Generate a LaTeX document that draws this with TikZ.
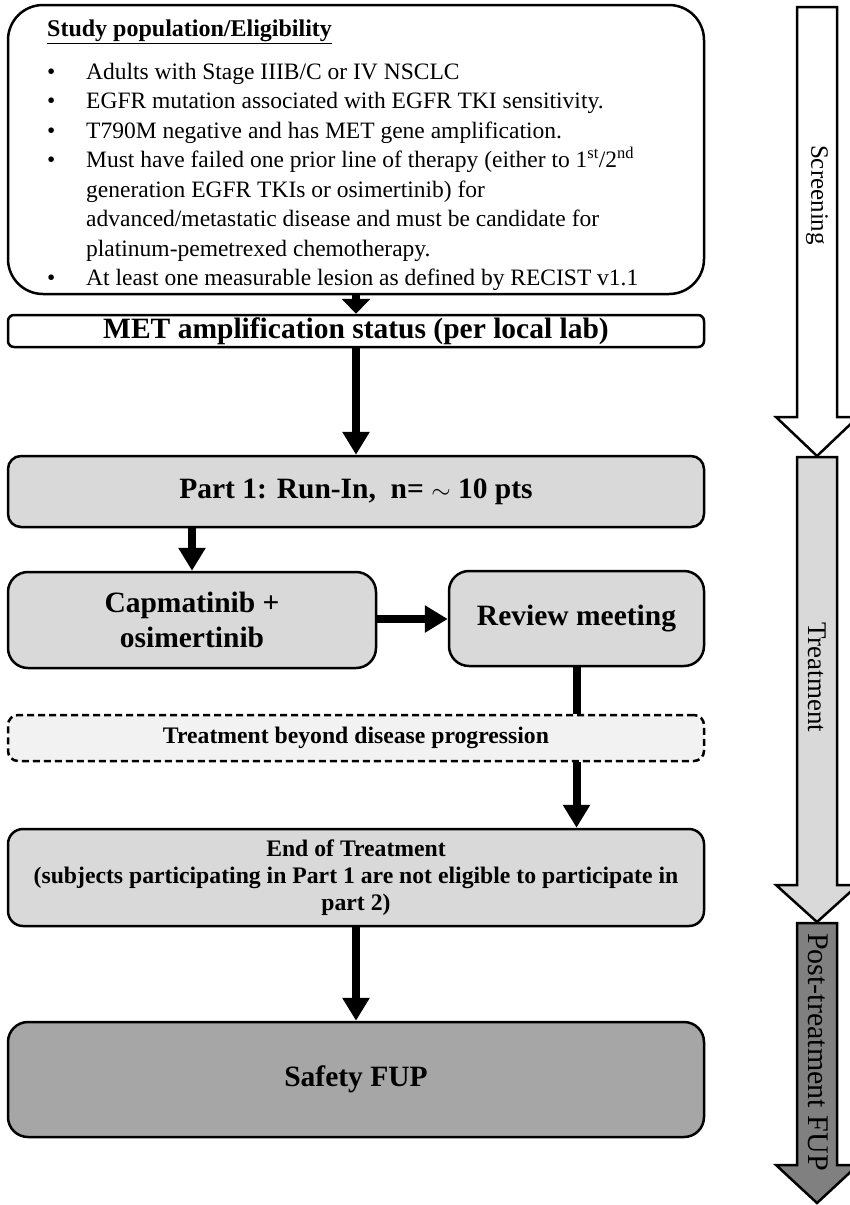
\documentclass[tikz,border=0pt]{standalone}
\usepackage{fontspec}
\setmainfont{Liberation Serif}
\usepackage{tikz}
\usetikzlibrary{arrows.meta,positioning,calc}

\definecolor{boxgray}{HTML}{D9D9D9}
\definecolor{palegray}{HTML}{F2F2F2}
\definecolor{safegray}{HTML}{A6A6A6}
\definecolor{postgray}{HTML}{808080}

\begin{document}
\begin{tikzpicture}[x=1pt, y=-1pt,
    box/.style={rectangle, draw, line width=2.5pt, fill=boxgray, inner sep=0pt, align=center, font=\fontsize{29.5}{35}\selectfont\bfseries},
    smallbox/.style={box, font=\fontsize{23.7}{27}\selectfont\bfseries},
    link/.style={line width=8pt, -{Triangle[length=23pt,width=26pt]}},
    phase/.style={draw, line width=2.5pt, line join=miter},
    phaselbl/.style={rotate=-90, inner sep=0pt}
]
\useasboundingbox (0,0) rectangle (849,1205);

% boxes
\node[box, fill=white, rounded corners=35pt, minimum width=696pt, minimum height=289pt] (study) at (356,149.5) {};
\node[anchor=north west, inner sep=0pt, align=left, font=\fontsize{23.5}{29.5}\selectfont] (studytxt) at (47,20)
  {\underline{\textbf{\fontsize{24}{28}\selectfont Study population/Eligibility}}\\[13pt]
   \makebox[39pt][l]{\textbullet}Adults with Stage IIIB/C or IV NSCLC\\
   \makebox[39pt][l]{\textbullet}EGFR mutation associated with EGFR TKI sensitivity.\\
   \makebox[39pt][l]{\textbullet}T790M negative and has MET gene amplification.\\
   \makebox[39pt][l]{\textbullet}Must have failed one prior line of therapy (either to 1\textsuperscript{st}/2\textsuperscript{nd}\\
   \hspace*{39pt}generation EGFR TKIs or osimertinib) for\\
   \hspace*{39pt}advanced/metastatic disease and must be candidate for\\
   \hspace*{39pt}platinum-pemetrexed chemotherapy.\\
   \makebox[39pt][l]{\textbullet}At least one measurable lesion as defined by RECIST v1.1};
\node[box, fill=white, rounded corners=6pt, minimum width=696pt, minimum height=32pt] (met) at (356,331) {MET amplification status (per local lab)};
\node[box, rounded corners=13pt, minimum width=696pt, minimum height=71pt] (part1) at (356,491.5) {Part 1: Run-In,\ \ n= $\sim$ 10 pts};
\node[box, rounded corners=20pt, minimum width=368pt, minimum height=96pt] (capma) at (192,620) {Capmatinib +\\osimertinib};
\node[box, rounded corners=20pt, minimum width=255pt, minimum height=95pt] (review) at (576.5,618.5) {Review meeting};
\node[smallbox, fill=palegray, dash pattern=on 7pt off 4pt, rounded corners=10pt, minimum width=696pt, minimum height=46pt] (beyond) at (356,738) {Treatment beyond disease progression};
\node[smallbox, rounded corners=15pt, minimum width=696pt, minimum height=97pt] (endtr) at (356,877.5) {End of Treatment\\(subjects participating in Part 1 are not eligible to participate in\\part 2)};
\node[box, fill=safegray, rounded corners=20pt, minimum width=696pt, minimum height=115pt] (safety) at (356,1079.5) {Safety FUP};

% connectors
\draw[link, -{Triangle[length=15pt,width=28pt]}] (study) -- (met);
\draw[link] (met) -- (part1);
\draw[link] (part1.south -| capma.north) -- (capma.north);
\draw[link] (capma.east |- 0,619) -- (review.west |- 0,619);
\draw[line width=8pt] (review.south) -- (review.south |- beyond.north);
\draw[link] (review.south |- beyond.south) -- (review.south |- endtr.north);
\draw[link] (endtr) -- (safety);

% phase arrows
\draw[phase, fill=white] (797,7) -- (837,7) -- (837,417) -- (858,417) -- (817,456) -- (776,417) -- (797,417) -- cycle;
\draw[phase, fill=boxgray] (797,457) -- (837,457) -- (837,885) -- (858,885) -- (817,922) -- (776,885) -- (797,885) -- cycle;
\draw[phase, fill=postgray] (797,923) -- (837,923) -- (837,1165) -- (858,1165) -- (817,1203) -- (776,1165) -- (797,1165) -- cycle;
\node[phaselbl, font=\fontsize{25}{25}\selectfont] (screenlbl) at (817,195) {Screening};
\node[phaselbl, font=\fontsize{27}{27}\selectfont] (treatlbl) at (817,677) {Treatment};
\node[phaselbl, font=\fontsize{30}{30}\selectfont] (postlbl) at (818,1052) {Post-treatment FUP};
\end{tikzpicture}
\end{document}
